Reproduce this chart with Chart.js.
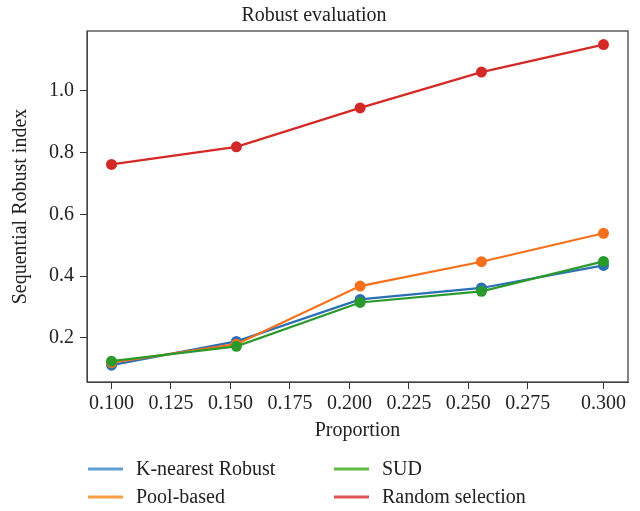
<!DOCTYPE html>
<html>
<head>
<meta charset="utf-8">
<script src="https://cdn.jsdelivr.net/npm/chart.js@4"></script>
<style>
  body { margin: 0; background: #fff; }
  #box { position: relative; width: 640px; height: 511px; }
</style>
</head>
<body>
<div id="box"><canvas id="robustChart"></canvas></div>
<script>
const proportion = [0.1, 0.1525, 0.2045, 0.2555, 0.3068];
const kNearest = [0.112, 0.189, 0.325, 0.362, 0.435];
const poolBased = [0.120, 0.180, 0.368, 0.447, 0.539];
const sud = [0.125, 0.173, 0.315, 0.351, 0.448];
const randomSel = [0.762, 0.819, 0.945, 1.061, 1.150];

const xTickValues = [0.1, 0.125, 0.15, 0.175, 0.2, 0.225, 0.25, 0.275, 0.3068];
const xTickLabels = ["0.100", "0.125", "0.150", "0.175", "0.200", "0.225", "0.250", "0.275", "0.300"];
const yTickValues = [0.2, 0.4, 0.6, 0.8, 1.0];

const toPoints = (ys) => ys.map((y, i) => ({ x: proportion[i], y: y }));

// legend order follows the reference (two columns, filled row by row here)
const series = [
  { label: "K-nearest Robust", data: kNearest, color: "#2b6fb4", legend: "#5f9dd3", order: 4 },
  { label: "SUD", data: sud, color: "#2a9a2a", legend: "#62bb45", order: 2 },
  { label: "Pool-based", data: poolBased, color: "#f5701a", legend: "#f5a044", order: 3 },
  { label: "Random selection", data: randomSel, color: "#d42a27", legend: "#de5656", order: 1 },
];

const fontFamily = "'Liberation Serif', 'DejaVu Serif', serif";
const font = { family: fontFamily, size: 20, weight: "normal" };

const frame = {
  id: "frame",
  afterDraw(chart) {
    const { ctx, chartArea: a } = chart;
    ctx.save();
    ctx.strokeStyle = "#444";
    ctx.lineWidth = 1.3;
    ctx.strokeRect(a.left, a.top, a.right - a.left, a.bottom - a.top);
    ctx.restore();
  },
};

// two-column legend under the axis
const gridLegend = {
  id: "gridLegend",
  afterDraw(chart) {
    const { ctx } = chart;
    ctx.save();
    ctx.font = "20px " + fontFamily;
    ctx.textBaseline = "middle";
    ctx.fillStyle = "#222";
    ctx.lineWidth = 3;
    series.forEach((s, i) => {
      const x = 88 + (i % 2) * 246;
      const y = 469 + Math.floor(i / 2) * 28;
      ctx.strokeStyle = s.legend;
      ctx.beginPath();
      ctx.moveTo(x, y);
      ctx.lineTo(x + 35, y);
      ctx.stroke();
      ctx.fillText(s.label, x + 48, y + 1);
    });
    ctx.restore();
  },
};

const ctx = document.getElementById("robustChart").getContext("2d");
const robustChart = new Chart(ctx, {
  type: "line",
  data: {
    datasets: series.map((s) => ({
      label: s.label,
      data: toPoints(s.data),
      borderColor: s.color,
      backgroundColor: s.color,
      borderWidth: 2.2,
      pointRadius: 5.5,
      pointBorderWidth: 0,
      tension: 0,
      order: s.order,
    })),
  },
  options: {
    responsive: true,
    maintainAspectRatio: false,
    animation: false,
    layout: { padding: { left: 0, right: 12, top: 0, bottom: 66 } },
    plugins: {
      legend: { display: false },
      tooltip: { enabled: false },
      title: {
        display: true,
        text: "Robust evaluation",
        color: "#222",
        font: font,
        padding: { top: 4, bottom: 3 },
      },
    },
    scales: {
      x: {
        type: "linear",
        min: 0.0897,
        max: 0.3171,
        afterBuildTicks: (scale) => { scale.ticks = xTickValues.map((v) => ({ value: v })); },
        afterFit: (scale) => { scale.height = 63; },
        ticks: {
          color: "#222",
          font: font,
          padding: 3,
          maxRotation: 0,
          autoSkip: false,
          callback: (v, i) => xTickLabels[i],
        },
        grid: { drawOnChartArea: false, drawTicks: true, tickLength: 7, color: "#333" },
        border: { display: true, color: "#444" },
        title: { display: true, text: "Proportion", color: "#222", font: font, padding: { top: 0, bottom: 2 } },
      },
      y: {
        type: "linear",
        min: 0.0575,
        max: 1.194,
        afterBuildTicks: (scale) => { scale.ticks = yTickValues.map((v) => ({ value: v })); },
        afterFit: (scale) => { scale.width = 87; },
        ticks: {
          color: "#222",
          font: font,
          padding: 6,
          callback: (v) => v.toFixed(1),
        },
        grid: { drawOnChartArea: false, drawTicks: true, tickLength: 7, color: "#333" },
        border: { display: true, color: "#444" },
        title: { display: true, text: "Sequential Robust index", color: "#222", font: font, padding: { top: 9, bottom: 0 } },
      },
    },
  },
  plugins: [frame, gridLegend],
});
</script>
</body>
</html>
